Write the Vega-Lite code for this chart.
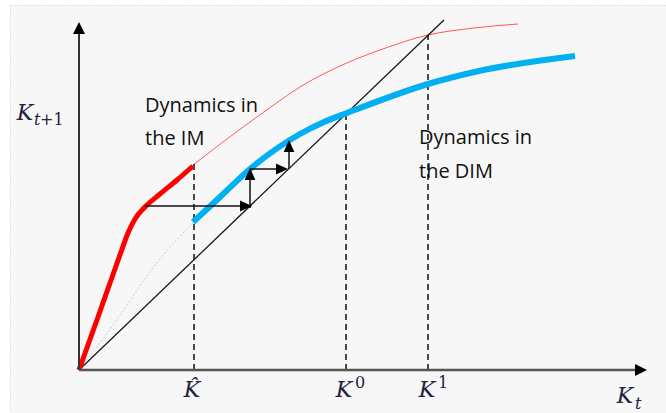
{
  "$schema": "https://vega.github.io/schema/vega-lite/v6.json",
  "width": 656,
  "height": 408,
  "autosize": {"type": "none"},
  "padding": {"left": 10, "top": 5, "right": 0, "bottom": 0},
  "background": "#ffffff",
  "config": {"view": {"fill": "#f7f7f7", "stroke": "#c9c9c9", "strokeDash": [1, 2]}},
  "datasets": {
    "redThin": [
      {"x": 114, "y": 205}, {"x": 140, "y": 225}, {"x": 171, "y": 248}, {"x": 196, "y": 266},
      {"x": 221, "y": 283}, {"x": 261, "y": 304}, {"x": 301, "y": 320}, {"x": 349, "y": 335},
      {"x": 395, "y": 342}, {"x": 439, "y": 346}
    ],
    "blueThin": [
      {"x": 0, "y": 0}, {"x": 21, "y": 27}, {"x": 48, "y": 65}, {"x": 71, "y": 98},
      {"x": 91, "y": 123}, {"x": 106, "y": 139}, {"x": 114, "y": 147}
    ],
    "diag": [{"x": 0, "y": 0}, {"x": 365, "y": 350}],
    "blueThick": [
      {"x": 114, "y": 148}, {"x": 140, "y": 172}, {"x": 171, "y": 201}, {"x": 221, "y": 236},
      {"x": 245, "y": 248}, {"x": 268, "y": 257}, {"x": 349, "y": 286}, {"x": 400, "y": 299},
      {"x": 496, "y": 314}
    ],
    "redThick": [
      {"x": 0, "y": 0}, {"x": 19, "y": 53}, {"x": 31, "y": 87}, {"x": 42, "y": 118},
      {"x": 49, "y": 137}, {"x": 56, "y": 151}, {"x": 66, "y": 163}, {"x": 81, "y": 176},
      {"x": 98, "y": 190}, {"x": 114, "y": 204}
    ],
    "guides": [
      {"x": 115, "y": 0, "y2": 207},
      {"x": 267, "y": 0, "y2": 257},
      {"x": 349, "y": 0, "y2": 335}
    ],
    "shafts": [
      {"x": 66, "y": 164, "x2": 168, "y2": 164},
      {"x": 171, "y": 162, "x2": 171, "y2": 197},
      {"x": 171, "y": 201, "x2": 204, "y2": 201},
      {"x": 210, "y": 201, "x2": 210, "y2": 225}
    ],
    "headsRight": [{"x": 167, "y": 164}, {"x": 203, "y": 201}],
    "headsUp": [{"x": 171, "y": 196}, {"x": 210, "y": 224}],
    "yAxis": [{"x": 0, "y": 0, "y2": 338}],
    "xAxis": [{"x": 0, "y": 0, "x2": 558}],
    "yAxisHead": [{"x": 0, "y": 342}],
    "xAxisHead": [{"x": 562, "y": 0}],
    "body": [
      {"x": 66, "y": 258, "text": "Dynamics in"},
      {"x": 66, "y": 225, "text": "the IM"},
      {"x": 340, "y": 226, "text": "Dynamics in"},
      {"x": 340, "y": 192, "text": "the DIM"}
    ],
    "mathK": [
      {"x": 113, "y": -27, "text": "K̂"},
      {"x": 265, "y": -27, "text": "K"},
      {"x": 348, "y": -27, "text": "K"},
      {"x": 546, "y": -33, "text": "K"},
      {"x": -54, "y": 250, "text": "K"}
    ],
    "mathItalicSmall": [
      {"x": 556, "y": -39, "text": "t"},
      {"x": -45, "y": 245, "text": "t"}
    ],
    "mathUpSmall": [
      {"x": 276, "y": -18, "text": "0"},
      {"x": 359, "y": -18, "text": "1"},
      {"x": -39, "y": 245, "text": "+1"}
    ]
  },
  "encoding": {
    "x": {"field": "x", "type": "quantitative", "scale": {"domain": [-69, 587], "nice": false, "zero": false}, "axis": null},
    "y": {"field": "y", "type": "quantitative", "scale": {"domain": [-43, 365], "nice": false, "zero": false}, "axis": null}
  },
  "layer": [
    {"data": {"name": "redThin"}, "mark": {"type": "line", "color": "#ff5a5a", "strokeWidth": 1, "interpolate": "monotone"}},
    {"data": {"name": "blueThin"}, "mark": {"type": "line", "color": "#9fd6f2", "strokeWidth": 1, "strokeDash": [2, 2], "interpolate": "monotone"}},
    {"data": {"name": "diag"}, "mark": {"type": "line", "color": "#1a1a1a", "strokeWidth": 1.3}},
    {"data": {"name": "guides"}, "mark": {"type": "rule", "color": "#111111", "strokeWidth": 1.5, "strokeDash": [6, 4]},
      "encoding": {"y2": {"field": "y2"}}},
    {"data": {"name": "blueThick"}, "mark": {"type": "line", "color": "#00b0f0", "strokeWidth": 6, "strokeCap": "butt", "interpolate": "monotone"}},
    {"data": {"name": "redThick"}, "mark": {"type": "line", "color": "#ff0000", "strokeWidth": 5, "strokeCap": "butt", "interpolate": "monotone"}},
    {"data": {"name": "shafts"}, "mark": {"type": "rule", "color": "#111111", "strokeWidth": 1.5},
      "encoding": {"x2": {"field": "x2"}, "y2": {"field": "y2"}}},
    {"data": {"name": "headsRight"}, "mark": {"type": "point", "filled": true, "opacity": 1, "color": "#000000", "shape": "M1,0L-1,-0.9L-1,0.9Z", "size": 144}},
    {"data": {"name": "headsUp"}, "mark": {"type": "point", "filled": true, "opacity": 1, "color": "#000000", "shape": "M0,-1L-0.9,1L0.9,1Z", "size": 144}},
    {"data": {"name": "yAxis"}, "mark": {"type": "rule", "color": "#333333", "strokeWidth": 2},
      "encoding": {"y2": {"field": "y2"}}},
    {"data": {"name": "xAxis"}, "mark": {"type": "rule", "color": "#555555", "strokeWidth": 2.5},
      "encoding": {"x2": {"field": "x2"}}},
    {"data": {"name": "yAxisHead"}, "mark": {"type": "point", "filled": true, "opacity": 1, "color": "#000000", "shape": "M0,-1L-1,1L1,1Z", "size": 144}},
    {"data": {"name": "xAxisHead"}, "mark": {"type": "point", "filled": true, "opacity": 1, "color": "#000000", "shape": "M1,0L-1,-1L-1,1Z", "size": 144}},
    {"data": {"name": "body"}, "mark": {"type": "text", "align": "left", "baseline": "alphabetic", "font": "Open Sans", "fontSize": 20, "color": "#111111"},
      "encoding": {"text": {"field": "text"}}},
    {"data": {"name": "mathK"}, "mark": {"type": "text", "align": "center", "baseline": "alphabetic", "font": "DejaVu Serif", "fontStyle": "italic", "fontSize": 22, "color": "#1f2340"},
      "encoding": {"text": {"field": "text"}}},
    {"data": {"name": "mathItalicSmall"}, "mark": {"type": "text", "align": "left", "baseline": "alphabetic", "font": "DejaVu Serif", "fontStyle": "italic", "fontSize": 16, "color": "#1f2340"},
      "encoding": {"text": {"field": "text"}}},
    {"data": {"name": "mathUpSmall"}, "mark": {"type": "text", "align": "left", "baseline": "alphabetic", "font": "DejaVu Serif", "fontSize": 16, "color": "#1f2340"},
      "encoding": {"text": {"field": "text"}}}
  ]
}
